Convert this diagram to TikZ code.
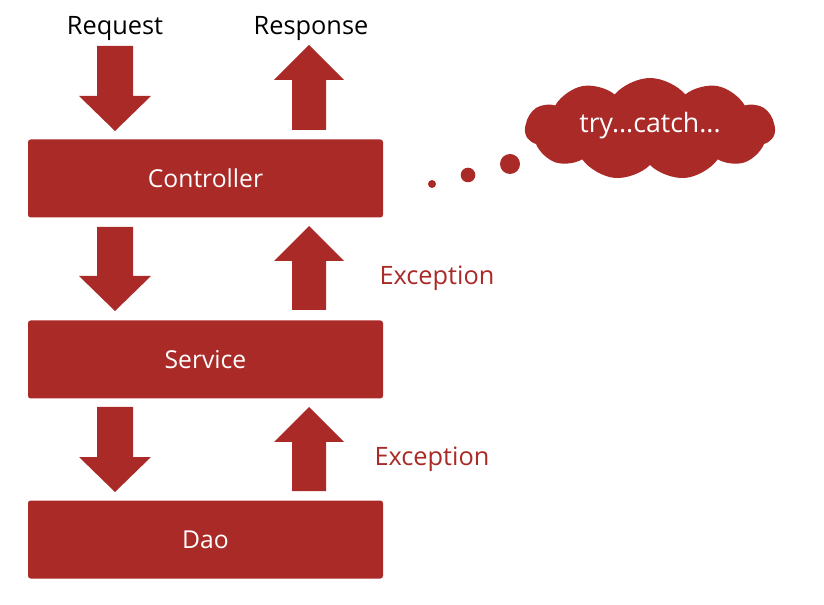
\documentclass[tikz,border=0pt]{standalone}
\usepackage{fontspec}
\setmainfont{Open Sans}
\usetikzlibrary{shapes.symbols}
\definecolor{brick}{HTML}{A92A27}
\tikzset{
  layer/.style={fill=brick, rounded corners=2pt, minimum width=355*0.75pt, minimum height=78*0.75pt, inner sep=0pt, text=white, font=\fontsize{18.5}{22}\selectfont},
  lbl/.style={font=\fontsize{19}{22}\selectfont, inner sep=0pt},
  exc/.style={lbl, text=brick},
  blk/.style={fill=brick, draw=none},
}
% down arrow: #1 = center x, #2 = top y, #3 = tip y
\newcommand\blkdown[3]{\fill[blk] (#1-18,#2) -- (#1+18,#2) -- (#1+18,#3-35) -- (#1+36,#3-35) -- (#1,#3) -- (#1-36,#3-35) -- (#1-18,#3-35) -- cycle;}
% up arrow: #1 = center x, #2 = bottom y, #3 = tip y
\newcommand\blkup[3]{\fill[blk] (#1-17,#2) -- (#1+17,#2) -- (#1+17,#3+35) -- (#1+35,#3+35) -- (#1,#3) -- (#1-35,#3+35) -- (#1-17,#3+35) -- cycle;}
\begin{document}
\begin{tikzpicture}[x=0.75pt,y=-0.75pt]
\useasboundingbox (0,0) rectangle (824,605);
\node[layer] (ctrl) at (205.5,178.5) {\raisebox{-1.5pt}{Controller}};
\node[layer] (svc) at (205.5,359.5) {\raisebox{-1.5pt}{Service}};
\node[layer] (dao) at (205.5,539.5) {\raisebox{-1.5pt}{Dao}};
\node[lbl] (req) at (115,29) {Request};
\node[lbl] (resp) at (311,29) {Response};
\blkdown{115}{46}{131}
\blkup{309}{130}{45}
\blkdown{115}{227}{311}
\blkup{309}{310}{226}
\blkdown{115}{407}{492}
\blkup{309}{491}{407}
\node[exc] (e1) at (437,278) {Exception};
\node[exc] (e2) at (432,459) {Exception};
\fill[brick] (432,184) circle (4);
\fill[brick] (468,175) circle (7.3);
\fill[brick] (510,164) circle (10);
\node[cloud, cloud puffs=11, cloud puff arc=100, aspect=2.5, fill=brick, minimum width=250*0.75pt, minimum height=102*0.75pt, inner sep=0pt] (cl) at (650,129) {};
\node[lbl, text=white, font=\fontsize{20}{22}\selectfont] (tc) at (650,126) {try...catch...};
\end{tikzpicture}
\end{document}
